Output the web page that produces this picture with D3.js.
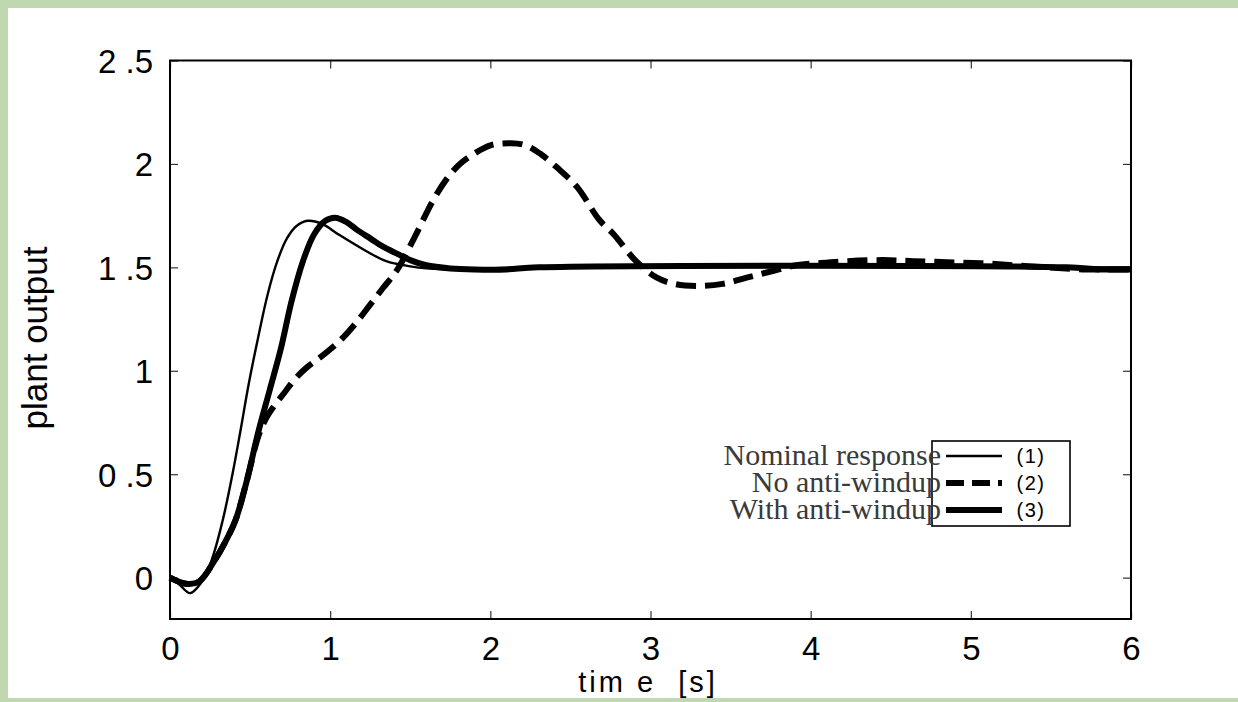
<!DOCTYPE html>
<html lang="en">
  <head>
    <meta charset="UTF-8">
    <title>plant output</title>
    <style>
      body { margin: 0; background: #bcd6ad; }
      svg { display: block; }
    </style>
    <script src="https://d3js.org/d3.v7.min.js"></script>
    <script>
      // ticks
      var xTicks = [0, 1, 2, 3, 4, 5, 6];
      var yTicks = [0, 0.5, 1, 1.5, 2, 2.5];
      var yTickLabels = ["0", "0 .5", "1", "1 .5", "2", "2 .5"];

      // (1) nominal response
      var nominalT = [0, 0.06, 0.125, 0.19, 0.26, 0.33, 0.39, 0.44, 0.49, 0.55, 0.61, 0.67, 0.73, 0.79, 0.86, 0.95, 1.05, 1.2, 1.35, 1.5, 1.6, 1.8, 2.0, 2.2, 6.0];
      var nominalV = [0, -0.035, -0.075, -0.03, 0.085, 0.28, 0.5, 0.71, 0.93, 1.16, 1.37, 1.53, 1.64, 1.70, 1.725, 1.71, 1.66, 1.59, 1.53, 1.505, 1.495, 1.49, 1.495, 1.5, 1.5];

      // (2) no anti-windup
      var noAwT = [0, 0.1, 0.18, 0.28, 0.35, 0.41, 0.48, 0.55, 0.6, 0.66, 0.72, 0.78, 0.86, 0.93, 1.01, 1.08, 1.16, 1.25, 1.33, 1.42, 1.53, 1.64, 1.73, 1.81, 1.9, 2.0, 2.13, 2.22, 2.31, 2.42, 2.54, 2.68, 2.77, 2.91, 3.04, 3.15, 3.3, 3.45, 3.6, 3.75, 3.91, 4.05, 4.23, 4.45, 4.64, 4.85, 5.06, 5.27, 5.47, 5.7, 6.0];
      var noAwV = [0, -0.03, -0.02, 0.085, 0.18, 0.28, 0.47, 0.68, 0.77, 0.84, 0.9, 0.96, 1.02, 1.06, 1.11, 1.16, 1.23, 1.32, 1.40, 1.49, 1.65, 1.82, 1.93, 2.0, 2.05, 2.09, 2.10, 2.09, 2.05, 1.98, 1.89, 1.73, 1.66, 1.53, 1.45, 1.42, 1.41, 1.42, 1.45, 1.48, 1.51, 1.52, 1.53, 1.535, 1.53, 1.525, 1.52, 1.51, 1.50, 1.49, 1.49];

      // (3) with anti-windup
      var withAwT = [0, 0.1, 0.18, 0.28, 0.35, 0.41, 0.48, 0.55, 0.62, 0.69, 0.76, 0.83, 0.9, 0.97, 1.03, 1.1, 1.17, 1.25, 1.33, 1.42, 1.5, 1.6, 1.75, 1.9, 2.1, 2.3, 5.6, 5.8, 6.0];
      var withAwV = [0, -0.03, -0.02, 0.085, 0.18, 0.28, 0.47, 0.7, 0.9, 1.1, 1.34, 1.53, 1.66, 1.725, 1.74, 1.72, 1.68, 1.64, 1.60, 1.565, 1.535, 1.51, 1.495, 1.49, 1.49, 1.5, 1.5, 1.49, 1.49];

      var legendNames = ["Nominal response", "No anti-windup", "With anti-windup"];
      var legendTags = ["(1)", "(2)", "(3)"];

      window.onload = function () {
        var W = 1238, H = 702;
        var left = 170, right = 1131, top = 60.5, bottom = 619;

        var svg = d3.select("body").append("svg")
          .attr("width", W).attr("height", H);

        svg.append("rect").attr("x", 0).attr("y", 0).attr("width", W).attr("height", H)
          .attr("fill", "#bfd8b0");
        svg.append("rect").attr("x", 8).attr("y", 8).attr("width", W - 8).attr("height", 690)
          .attr("fill", "#ffffff");

        var x = d3.scaleLinear().domain([0, 6]).range([left, right]);
        var y = d3.scaleLinear().domain([-0.2, 2.5]).range([bottom, top]);

        var font = "'Liberation Sans', Arial, sans-serif";

        // axes with inward ticks, mirrored on opposite sides
        var xAxis = d3.axisBottom(x).tickValues(xTicks).tickSize(-8).tickPadding(18)
          .tickFormat(d3.format("d"));
        var xAxisTop = d3.axisTop(x).tickValues(xTicks).tickSize(-8).tickFormat("");
        var yAxis = d3.axisLeft(y).tickValues(yTicks).tickSize(-8).tickPadding(17)
          .tickFormat(function (d, i) { return yTickLabels[i]; });
        var yAxisRight = d3.axisRight(y).tickValues(yTicks).tickSize(-8).tickFormat("");

        function styleAxis(g) {
          g.select(".domain").remove();
          g.selectAll(".tick line").attr("stroke", "#333").attr("stroke-width", 1.2);
          g.selectAll(".tick text").attr("fill", "#000").style("font-family", font)
            .style("font-size", "33px");
        }

        svg.append("g").attr("transform", "translate(0," + bottom + ")").call(xAxis).call(styleAxis);
        svg.append("g").attr("transform", "translate(0," + top + ")").call(xAxisTop).call(styleAxis);
        svg.append("g").attr("transform", "translate(" + left + ",0)").call(yAxis).call(styleAxis)
          .selectAll(".tick text").attr("dy", "0.36em");
        svg.append("g").attr("transform", "translate(" + right + ",0)").call(yAxisRight).call(styleAxis);

        svg.append("rect").attr("x", left).attr("y", top)
          .attr("width", right - left).attr("height", bottom - top)
          .attr("fill", "none").attr("stroke", "#000").attr("stroke-width", 2);

        // axis labels
        svg.append("text").attr("x", 648).attr("y", 692)
          .attr("text-anchor", "middle").style("font-family", font).style("font-size", "29px")
          .style("letter-spacing", "3px").attr("xml:space", "preserve")
          .text("tim e  [s]");
        svg.append("text").attr("transform", "translate(47," + 338 + ") rotate(-90)")
          .attr("text-anchor", "middle").style("font-family", font).style("font-size", "35px")
          .text("plant output");

        var line = d3.line().curve(d3.curveCatmullRom.alpha(0.5))
          .x(function (d) { return x(d[0]); })
          .y(function (d) { return y(d[1]); });

        var series = [
          { t: nominalT, v: nominalV, w: 2.4, dash: null },
          { t: noAwT, v: noAwV, w: 6, dash: "20,9" },
          { t: withAwT, v: withAwV, w: 6, dash: null }
        ];

        series.forEach(function (s) {
          var pts = s.t.map(function (t, i) { return [t, s.v[i]]; });
          svg.append("path").datum(pts)
            .attr("d", line)
            .attr("fill", "none").attr("stroke", "#000")
            .attr("stroke-width", s.w)
            .attr("stroke-linejoin", "round")
            .attr("stroke-dasharray", s.dash);
        });

        // legend
        var lg = svg.append("g");
        lg.append("rect").attr("x", 932).attr("y", 441).attr("width", 138).attr("height", 85)
          .attr("fill", "#fff").attr("stroke", "#000").attr("stroke-width", 1.6);
        var rowY = [456, 483, 510];
        series.forEach(function (s, i) {
          lg.append("line").attr("x1", 946).attr("x2", 1002)
            .attr("y1", rowY[i]).attr("y2", rowY[i])
            .attr("stroke", "#000").attr("stroke-width", s.w)
            .attr("stroke-dasharray", s.dash ? "18,8" : null);
          lg.append("text").attr("x", 1031).attr("y", rowY[i] + 7)
            .attr("text-anchor", "middle").style("font-family", font).style("font-size", "20px")
            .style("letter-spacing", "1.5px")
            .text(legendTags[i]);
          lg.append("text").attr("x", 941).attr("y", rowY[i] + 9)
            .attr("text-anchor", "end").attr("fill", "#3a3a3a")
            .style("font-family", "'Liberation Serif', 'Times New Roman', serif")
            .style("font-size", "30px")
            .text(legendNames[i]);
        });
      };
    </script>
  </head>
  <body>
  </body>
</html>
